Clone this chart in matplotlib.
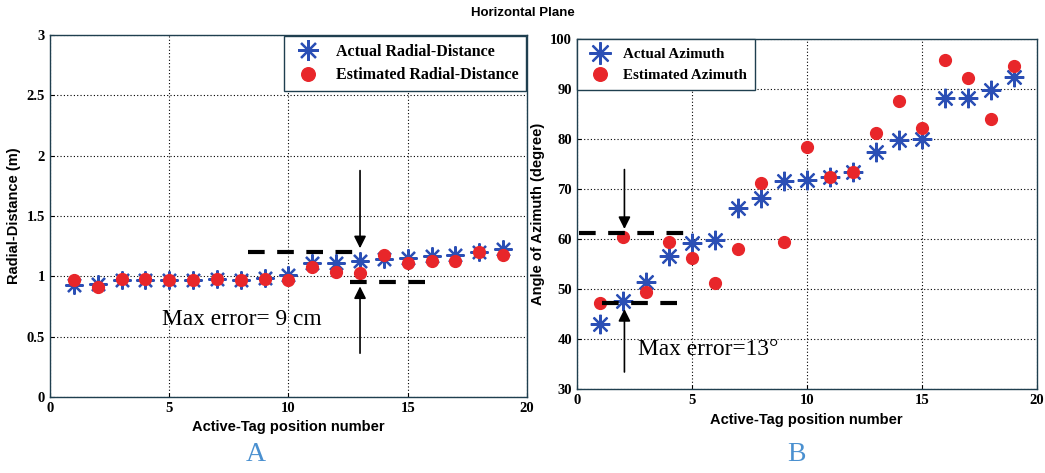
import numpy as np
import matplotlib
matplotlib.use("Agg")
import matplotlib.pyplot as plt

# Datos
pos = np.arange(1, 20)

dist_real = [0.93, 0.94, 0.97, 0.97, 0.97, 0.97, 0.98, 0.97, 0.99, 1.01,
             1.11, 1.11, 1.13, 1.14, 1.15, 1.17, 1.18, 1.20, 1.23]
dist_est = [0.97, 0.91, 0.98, 0.98, 0.97, 0.97, 0.98, 0.97, 0.98, 0.97,
            1.08, 1.04, 1.03, 1.18, 1.11, 1.13, 1.13, 1.20, 1.18]

azi_real = [43.1, 47.7, 51.4, 56.7, 59.2, 59.9, 66.3, 68.3, 71.7, 71.9,
            72.5, 73.5, 77.4, 79.9, 80.0, 88.3, 88.3, 89.9, 92.4]
azi_est = [47.2, 60.4, 49.5, 59.4, 56.3, 51.2, 58.0, 71.3, 59.4, 78.5,
           72.5, 73.5, 81.2, 87.7, 82.3, 95.9, 92.2, 84.1, 94.7]

azul = "#2b4fb5"
rojo = "#e8262a"
sans = ["Liberation Sans", "DejaVu Sans"]
serif = ["Liberation Serif", "DejaVu Serif"]

fig = plt.figure(figsize=(10.45, 4.73), dpi=100)
ax1 = fig.add_axes([0.0478, 0.1607, 0.4565, 0.765])
ax2 = fig.add_axes([0.552, 0.177, 0.440, 0.740])

def estilo(ax):
    ax.grid(True, color="black", linestyle=(0, (1, 2)), linewidth=0.8)
    for s in ax.spines.values():
        s.set_color("#1f3f4f")
        s.set_linewidth(1.0)
    ax.tick_params(direction="in", length=3, labelsize=10.5)
    for lab in ax.get_xticklabels() + ax.get_yticklabels():
        lab.set_family(serif)
        lab.set_fontweight("bold")

# Panel A
ax1.plot(pos, dist_real, linestyle="none", marker=(8, 2, 0), markersize=13,
         markeredgewidth=1.6, color=azul, label="Actual Radial-Distance")
ax1.plot(pos, dist_est, linestyle="none", marker="o", markersize=8.5,
         color=rojo, label="Estimated Radial-Distance")
ax1.set_xlim(0, 20)
ax1.set_ylim(0, 3)
ax1.set_xticks([0, 5, 10, 15, 20])
ax1.set_yticks([0, 0.5, 1, 1.5, 2, 2.5, 3])
ax1.set_yticklabels(["0", "0.5", "1", "1.5", "2", "2.5", "3"])
estilo(ax1)
ax1.set_xlabel("Active-Tag position number", family=sans, fontweight="bold", fontsize=10.5)
ax1.set_ylabel("Radial-Distance (m)", family=sans, fontweight="bold", fontsize=10.5)
ax1.hlines(1.20, 8.3, 12.8, colors="black", linestyles=(0, (4, 3)), linewidth=3)
ax1.hlines(0.95, 12.6, 16.0, colors="black", linestyles=(0, (4, 3)), linewidth=3)
ax1.annotate("", xy=(13, 1.21), xytext=(13, 1.90),
             arrowprops=dict(arrowstyle="-|>", color="black", lw=1.2, mutation_scale=18))
ax1.annotate("", xy=(13, 0.94), xytext=(13, 0.34),
             arrowprops=dict(arrowstyle="-|>", color="black", lw=1.2, mutation_scale=18))
ax1.text(4.7, 0.64, "Max error= 9 cm", family=serif, fontsize=16.8, va="center")
ax1.legend(loc="upper right", prop={"family": serif, "weight": "bold", "size": 11.5},
           markerscale=1.15, fancybox=False, edgecolor="#1f3f4f", framealpha=1,
           borderaxespad=0.05, borderpad=0.5, handletextpad=0.7, labelspacing=0.45)

# Panel B
ax2.plot(pos, azi_real, linestyle="none", marker=(8, 2, 0), markersize=14,
         markeredgewidth=1.6, color=azul, label="Actual Azimuth")
ax2.plot(pos, azi_est, linestyle="none", marker="o", markersize=8.5,
         color=rojo, label="Estimated Azimuth")
ax2.set_xlim(0, 20)
ax2.set_ylim(30, 100)
ax2.set_xticks([0, 5, 10, 15, 20])
ax2.set_yticks(np.arange(30, 101, 10))
estilo(ax2)
ax2.set_xlabel("Active-Tag position number", family=sans, fontweight="bold", fontsize=10.5)
ax2.set_ylabel("Angle of Azimuth (degree)", family=sans, fontweight="bold", fontsize=10.5)
ax2.hlines(61.2, 0.1, 4.75, colors="black", linestyles=(0, (4, 3)), linewidth=3)
ax2.hlines(47.2, 1.1, 4.75, colors="black", linestyles=(0, (4, 3)), linewidth=3)
ax2.annotate("", xy=(2.07, 61.5), xytext=(2.07, 74.5),
             arrowprops=dict(arrowstyle="-|>", color="black", lw=1.2, mutation_scale=18))
ax2.annotate("", xy=(2.07, 46.6), xytext=(2.07, 32.9),
             arrowprops=dict(arrowstyle="-|>", color="black", lw=1.2, mutation_scale=18))
ax2.text(2.65, 37.9, "Max error=13°", family=serif, fontsize=16.8, va="center")
ax2.legend(loc="upper left", prop={"family": serif, "weight": "bold", "size": 10.8},
           markerscale=1.15, fancybox=False, edgecolor="#1f3f4f", framealpha=1,
           borderaxespad=0.0, borderpad=0.55, handletextpad=0.5, labelspacing=0.5)

fig.text(0.5, 0.972, "Horizontal Plane", ha="center", va="center",
         family=sans, fontweight="bold", fontsize=9.5)
fig.text(0.245, 0.04, "A", ha="center", va="center", family=serif,
         fontsize=20, color="#4a90d0")
fig.text(0.762, 0.04, "B", ha="center", va="center", family=serif,
         fontsize=20, color="#4a90d0")

fig.savefig("out.png", dpi=100)
